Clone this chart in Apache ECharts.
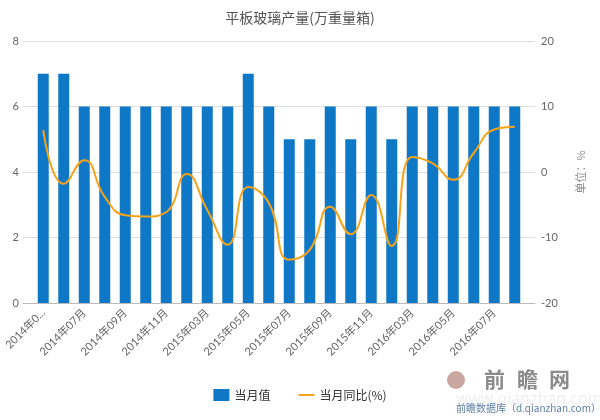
<!DOCTYPE html>
<html>
<head>
<meta charset="utf-8">
<script src="https://cdn.jsdelivr.net/npm/echarts@6/dist/echarts.min.js"></script>
<style>html,body{margin:0;padding:0;background:#fff}#c{width:600px;height:420px}</style>
</head>
<body>
<div id="c"></div>
<script>
var categories = ['2014年05月','2014年06月','2014年07月','2014年08月','2014年09月','2014年10月','2014年11月','2014年12月','2015年03月','2015年04月','2015年05月','2015年06月','2015年07月','2015年08月','2015年09月','2015年10月','2015年11月','2015年12月','2016年03月','2016年04月','2016年05月','2016年06月','2016年07月','2016年08月'];
var monthValue = [7,7,6,6,6,6,6,6,6,6,7,6,5,5,6,5,6,5,6,6,6,6,6,6];
var yoyValue = [6.4,-1.8,1.8,-3.8,-6.6,-6.8,-6.1,-0.3,-5.8,-11.1,-2.3,-4.7,-13.4,-11.9,-5.3,-9.5,-3.5,-11.3,2.3,1.3,-1.2,2.9,6.5,6.9];
var leftTicks = {min:0, max:8, interval:2};
var rightTicks = {min:-20, max:20, interval:10};

var chart = echarts.init(document.getElementById('c'));
var font = 'Lato, "Noto Sans CJK SC", sans-serif';
chart.setOption({
  animation:false,
  title:{text:'平板玻璃产量(万重量箱)', left:'center', top:6, textStyle:{fontFamily:'"Noto Sans CJK SC", serif', fontSize:14, fontWeight:'normal', color:'#555'}},
  grid:[
    {left:23, right:65, top:41, bottom:117},
    {left:33, right:75, top:41, bottom:117}
  ],
  legend:{bottom:14, left:'center', itemGap:28, itemWidth:16, itemHeight:12, textStyle:{fontFamily:'"Noto Sans CJK SC", sans-serif', fontSize:12, color:'#333'},
    data:[{name:'当月值', icon:'rect'}, {name:'当月同比(%)', icon:'path://M0,0L0.01,0L0.01,0.01ZM0,5H16V7H0ZM0,12L0.01,12L0.01,11.99Z'}]},
  xAxis:[
    {type:'value', gridIndex:0, min:0, max:1, axisLine:{show:true, lineStyle:{color:'#bbb'}}, axisTick:{show:false}, axisLabel:{show:false}, splitLine:{show:false}},
    {type:'category', gridIndex:1, data:categories,
      axisLine:{show:false},
      axisTick:{alignWithLabel:true, interval:1, length:5, lineStyle:{color:'#bbb'}},
      axisLabel:{interval:1, rotate:45, fontSize:11, color:'#666', fontFamily:font, margin:8,
        formatter:function(v, i){ return i===0 ? v.slice(0,6)+'...' : v; }}
    }
  ],
  yAxis:[
    {type:'value', gridIndex:0, min:leftTicks.min, max:leftTicks.max, interval:leftTicks.interval,
      axisLabel:{fontSize:11, color:'#666', fontFamily:font, margin:4},
      splitLine:{lineStyle:{color:'#ddd'}}, axisLine:{show:false}, axisTick:{show:false}},
    {type:'value', gridIndex:0, min:rightTicks.min, max:rightTicks.max, interval:rightTicks.interval, position:'right',
      name:'单位：%', nameLocation:'middle', nameRotate:90, nameGap:40,
      nameTextStyle:{fontFamily:'"Noto Sans CJK SC", serif', fontSize:11, color:'#888'},
      axisLabel:{fontSize:11, color:'#666', fontFamily:font, margin:6},
      splitLine:{show:false}, axisLine:{show:false}, axisTick:{show:false}},
    {type:'value', gridIndex:1, min:leftTicks.min, max:leftTicks.max, show:false},
    {type:'value', gridIndex:1, min:rightTicks.min, max:rightTicks.max, show:false}
  ],
  series:[
    {name:'当月值', type:'bar', xAxisIndex:1, yAxisIndex:2, data:monthValue, barWidth:11, itemStyle:{color:'#0f78c6'}},
    {name:'当月同比(%)', type:'line', xAxisIndex:1, yAxisIndex:3, data:yoyValue, smooth:true, symbol:'none',
      lineStyle:{color:'#f5a31a', width:2}, itemStyle:{color:'#f5a31a'}}
  ],
  graphic:[
    {type:'circle', shape:{cx:456, cy:380, r:9}, style:{fill:'#c9a7a0'}},
    {type:'text', left:484, top:369, style:{text:'前', font:'bold 21px "Noto Sans CJK SC", sans-serif', fill:'#8a8a8a'}},
    {type:'text', left:517, top:369, style:{text:'瞻', font:'bold 21px "Noto Sans CJK SC", sans-serif', fill:'#8a8a8a'}},
    {type:'text', left:549, top:369, style:{text:'网', font:'bold 21px "Noto Sans CJK SC", sans-serif', fill:'#8a8a8a'}},
    {type:'text', left:456, top:391, style:{text:'www.qianzhan.com', font:'16px "Open Sans", sans-serif', fill:'#eeeeee'}},
    {type:'text', left:456, top:403, style:{text:'前瞻数据库（d.qianzhan.com）', font:'10px "Noto Sans CJK SC", sans-serif', fill:'#5b7ea6'}}
  ]
});
</script>
</body>
</html>
